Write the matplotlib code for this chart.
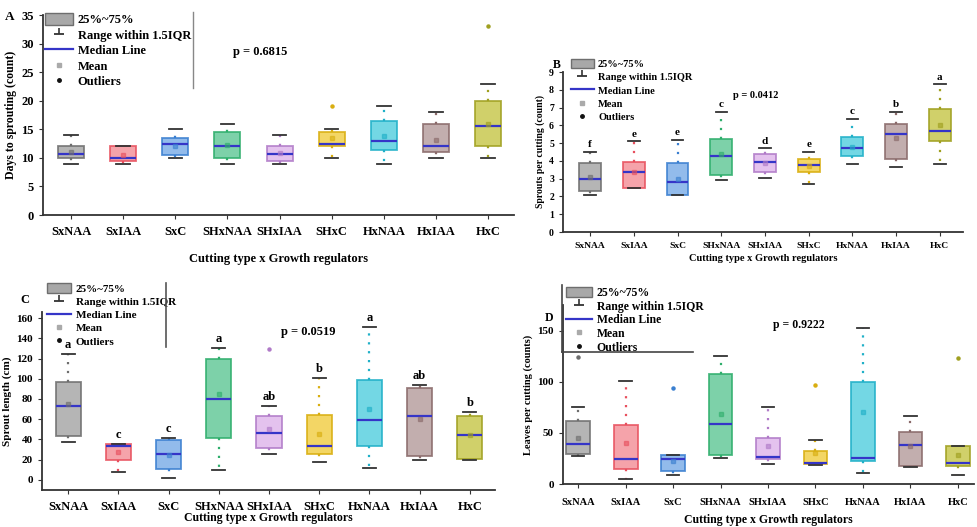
import numpy as np
import matplotlib
matplotlib.use("Agg")
import matplotlib.pyplot as plt
from matplotlib.patches import Patch
from matplotlib.lines import Line2D
from matplotlib.legend_handler import HandlerTuple

plt.rcParams['font.family'] = ['Liberation Serif', 'DejaVu Serif']
plt.rcParams['font.weight'] = 'bold'

groups = ["SxNAA", "SxIAA", "SxC", "SHxNAA", "SHxIAA", "SHxC", "HxNAA", "HxIAA", "HxC"]

# panel A: days to sprouting
A_q1 = [10, 9.5, 10.5, 10, 9.5, 12, 11.4, 11, 12]
A_med = [10.6, 10, 12.5, 12, 10.6, 12.5, 13, 12, 15.5]
A_q3 = [12, 12, 13.5, 14.5, 12, 14.5, 16.5, 16, 20]
A_lo = [9, 9, 10, 9, 9, 10, 9, 10, 10]
A_hi = [14, 12, 15, 16, 14, 15, 19, 18, 23]
A_mean = [11, 10.5, 12, 12.2, 10.8, 13.5, 13.8, 13.2, 16]
A_fliers = [[], [], [], [], [], [19], [], [], [33]]

# panel B: sprouts per cutting
B_q1 = [2.3, 2.5, 2.1, 3.2, 3.4, 3.4, 4.25, 4.1, 5.1]
B_med = [3.0, 3.35, 2.8, 4.3, 3.95, 3.75, 4.7, 5.5, 5.7]
B_q3 = [3.9, 3.95, 3.9, 5.25, 4.4, 4.1, 5.35, 6.1, 6.9]
B_lo = [2.1, 2.5, 2.1, 2.9, 3.05, 2.7, 3.85, 3.65, 3.8]
B_hi = [4.5, 5.1, 5.2, 6.75, 4.7, 4.5, 6.35, 6.75, 8.3]
B_mean = [3.1, 3.4, 3.0, 4.4, 3.9, 3.7, 4.8, 5.3, 6.0]
B_fliers = [[], [], [], [], [], [], [], [], []]
B_letters = ['f', 'e', 'e', 'c', 'd', 'e', 'c', 'b', 'a']

# panel C: sprout length
C_q1 = [43, 20, 11, 41, 32, 26, 34, 24, 21]
C_med = [73, 34, 26, 80, 46, 34, 59, 63, 44]
C_q3 = [97, 35, 39, 120, 63, 64, 99, 91, 63]
C_lo = [37, 8, 2, 10, 26, 18, 12, 20, 20]
C_hi = [124, 35, 41, 130, 73, 101, 151, 94, 67]
C_mean = [75, 28, 25, 85, 50, 45, 70, 60, 44]
C_fliers = [[], [], [], [], [129], [], [], [], []]
C_letters = ['a', 'c', 'c', 'a', 'ab', 'b', 'a', 'ab', 'b']

# panel D: leaves per cutting
D_q1 = [29, 15, 13, 28, 24, 20, 22, 18, 18]
D_med = [39, 24, 24, 59, 26, 21, 25, 38, 21]
D_q3 = [62, 58, 28, 108, 45, 32, 100, 51, 37]
D_lo = [27, 5, 9, 25, 20, 18.5, 11, 17, 9]
D_hi = [75, 101, 28, 125, 75, 43, 153, 66, 37]
D_mean = [45, 40, 22, 68, 37, 30, 70, 37, 28]
D_fliers = [[124], [], [94], [], [], [97], [], [], [123]]

fills = ['#A8A8A8', '#F4939B', '#7FB0E8', '#66C99A', '#E0B8EC',
         '#F2CF4A', '#5AD0E0', '#B8A0A0', '#C8C850']
edges = ['#6E6E6E', '#E8505E', '#3A7FD0', '#2FAE6C', '#B07AC8',
         '#D9AE10', '#20B0C8', '#8A6A6A', '#A0A020']
MED = '#3535C8'

W, H = 977, 527
fig = plt.figure(figsize=(9.77, 5.27), dpi=100)


def rect(l, t, r, b):
    return [l / W, 1 - b / H, (r - l) / W, (b - t) / H]


def fpt(x, y):
    return x / W, 1 - y / H


def panel(ax, q1, med, q3, lo, hi, mean, fliers, xlim, ylim, yticks, fs, tfs):
    stats = []
    for i in range(len(groups)):
        stats.append(dict(q1=q1[i], med=med[i], q3=q3[i], whislo=lo[i], whishi=hi[i],
                          mean=mean[i], fliers=fliers[i], label=groups[i]))
    bp = ax.bxp(stats, positions=np.arange(1, 10), widths=0.5, patch_artist=True,
                showmeans=True, showfliers=True)
    for i in range(len(groups)):
        bp['boxes'][i].set(facecolor=fills[i], edgecolor=edges[i], linewidth=1.3, alpha=0.85)
        bp['medians'][i].set(color=MED, linewidth=1.6)
        for w in bp['whiskers'][2 * i:2 * i + 2]:
            w.set(color=edges[i], linestyle=(0, (1, 3)), linewidth=1.6)
        for c in bp['caps'][2 * i:2 * i + 2]:
            c.set(color='#333333', linewidth=1.3, xdata=[i + 1 - 0.13, i + 1 + 0.13])
        bp['means'][i].set(marker='s', markersize=2.5, markerfacecolor=edges[i],
                           markeredgecolor=edges[i], alpha=0.6)
        bp['fliers'][i].set(marker='o', markersize=2.2, markerfacecolor=edges[i],
                            markeredgecolor=edges[i])
    ax.set_xlim(*xlim)
    ax.set_ylim(*ylim)
    ax.set_yticks(yticks)
    ax.set_xticks(np.arange(1, 10))
    ax.set_xticklabels(groups, fontsize=fs, fontweight='bold')
    for s in ['top', 'right']:
        ax.spines[s].set_visible(False)
    for s in ['left', 'bottom']:
        ax.spines[s].set_color('#333333')
        ax.spines[s].set_linewidth(1.3)
    ax.tick_params(axis='both', direction='out', length=3, color='#333333')
    ax.tick_params(axis='y', labelsize=tfs)
    for lab in ax.get_yticklabels():
        lab.set_fontweight('bold')


def add_legend(ax, x, y, fs, spacing, hh=0.9):
    rng = (Line2D([0], [0], color='#333333', marker='_', linestyle='None', markersize=7, markeredgewidth=1.3),
           Line2D([0], [0], color='#333333', marker=2, linestyle='None', markersize=4, markeredgewidth=1.2))
    handles = [Patch(facecolor='#A8A8A8', edgecolor='#6E6E6E'),
               rng,
               Line2D([0], [0], color=MED, linewidth=1.6),
               Line2D([0], [0], color='#AAAAAA', marker='s', linestyle='None', markersize=2.5),
               Line2D([0], [0], color='#111111', marker='o', linestyle='None', markersize=2.5)]
    labels = ["25%~75%", "Range within 1.5IQR", "Median Line", "Mean", "Outliers"]
    ax.legend(handles, labels, loc='upper left', bbox_to_anchor=fpt(x, y),
              bbox_transform=fig.transFigure, frameon=False,
              handlelength=2.2, handleheight=hh, handletextpad=0.4, labelspacing=spacing,
              borderpad=0, borderaxespad=0, prop={'weight': 'bold', 'size': fs},
              handler_map={tuple: HandlerTuple(ndivide=1, pad=0)})


def deco(x0, y0, x1, y1, color='#555555', lw=1.2):
    a, b = fpt(x0, y0)
    c, d = fpt(x1, y1)
    fig.add_artist(Line2D([a, c], [b, d], color=color, linewidth=lw, transform=fig.transFigure))


# ---- A
axA = fig.add_axes(rect(43, 15, 514, 215))
panel(axA, A_q1, A_med, A_q3, A_lo, A_hi, A_mean, A_fliers,
      (0.46, 9.5), (0, 35), np.arange(0, 36, 5), 9, 9)
axA.set_ylabel("Days to sprouting (count)", fontsize=8.5, fontweight='bold', labelpad=3)
axA.set_xlabel("Cutting type x Growth regulators", fontsize=9, fontweight='bold', labelpad=11)
axA.tick_params(axis='x', pad=5)
add_legend(axA, 45, 13, 9, 0.2, 1.05)
deco(193, 12, 193, 88, '#888888', 1.0)
fig.text(*fpt(5, 17), "A", fontsize=9.5, fontweight='bold', va='center')
fig.text(*fpt(233, 52), "p = 0.6815", fontsize=9, fontweight='bold', va='center')

# ---- B
axB = fig.add_axes(rect(563, 72, 963, 232))
panel(axB, B_q1, B_med, B_q3, B_lo, B_hi, B_mean, B_fliers,
      (0.38, 9.53), (0, 9), np.arange(0, 10, 1), 6.8, 7)
axB.set_ylabel("Sprouts per cutting (count)", fontsize=7, fontweight='bold', labelpad=3)
axB.set_xlabel("Cutting type x Growth regulators", fontsize=7.5, fontweight='bold', labelpad=3)
axB.tick_params(axis='x', pad=4)
for i, t in enumerate(B_letters):
    axB.text(i + 1, B_hi[i] + 0.15, t, ha='center', va='bottom', fontsize=8, fontweight='bold')
add_legend(axB, 571, 59, 7.5, 0.28, 1.0)
fig.text(*fpt(553, 65), "B", fontsize=8.5, fontweight='bold', va='center')
fig.text(*fpt(733, 95), "p = 0.0412", fontsize=7.5, fontweight='bold', va='center')

# ---- C
axC = fig.add_axes(rect(42, 312, 495, 490))
panel(axC, C_q1, C_med, C_q3, C_lo, C_hi, C_mean, C_fliers,
      (0.48, 9.5), (-10, 166), np.arange(0, 161, 20), 9, 8)
axC.set_ylabel("Sprout length (cm)", fontsize=8, fontweight='bold', labelpad=3)
axC.set_xlabel("Cutting type x Growth regulators", fontsize=8.5, fontweight='bold', labelpad=-1)
axC.tick_params(axis='x', pad=5)
for i, t in enumerate(C_letters):
    axC.text(i + 1, C_hi[i] + 3, t, ha='center', va='bottom', fontsize=9, fontweight='bold')
add_legend(axC, 47, 283, 8, 0.22, 1.0)
deco(166, 283, 166, 347, '#555555', 1.2)
fig.text(*fpt(20, 300), "C", fontsize=9, fontweight='bold', va='center')
fig.text(*fpt(281, 332), "p = 0.0519", fontsize=9, fontweight='bold', va='center')

# ---- D
axD = fig.add_axes(rect(563, 305, 974, 484))
panel(axD, D_q1, D_med, D_q3, D_lo, D_hi, D_mean, D_fliers,
      (0.68, 9.34), (0, 175), [0, 50, 100, 150], 7.5, 8)
axD.set_ylabel("Leaves per cutting (counts)", fontsize=7.5, fontweight='bold', labelpad=3)
axD.set_xlabel("Cutting type x Growth regulators", fontsize=8.5, fontweight='bold', labelpad=5)
axD.tick_params(axis='x', pad=7)
add_legend(axD, 566, 287, 8.5, 0.14, 0.9)
deco(562, 285, 562, 352, '#444444', 1.2)
deco(562, 352, 693, 352, '#444444', 1.2)
fig.text(*fpt(545, 318), "D", fontsize=8.5, fontweight='bold', va='center')
fig.text(*fpt(773, 325), "p = 0.9222", fontsize=8.5, fontweight='bold', va='center')

fig.savefig("out.png", dpi=100, facecolor='white')
